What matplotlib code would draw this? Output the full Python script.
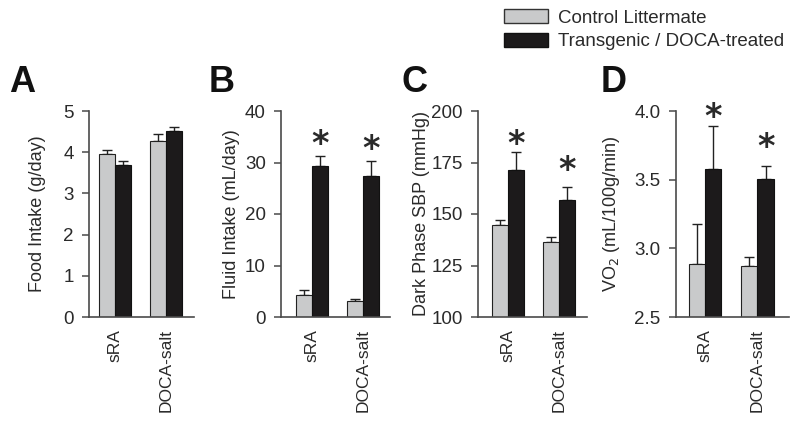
import matplotlib
matplotlib.use("Agg")
import matplotlib.pyplot as plt
from matplotlib.patches import Patch
import numpy as np

plt.rcParams['font.family'] = ['Liberation Sans', 'DejaVu Sans']

categories = ["sRA", "DOCA-salt"]
series_names = ["Control Littermate", "Transgenic / DOCA-treated"]

food_ctrl = [3.95, 4.27]
food_ctrl_err = [0.10, 0.18]
food_tg = [3.69, 4.52]
food_tg_err = [0.10, 0.08]

fluid_ctrl = [4.2, 3.2]
fluid_ctrl_err = [1.0, 0.2]
fluid_tg = [29.3, 27.3]
fluid_tg_err = [1.9, 3.0]
fluid_star = [35.0, 34.0]

sbp_ctrl = [144.5, 136.2]
sbp_ctrl_err = [2.4, 2.4]
sbp_tg = [171.2, 156.6]
sbp_tg_err = [9.0, 6.3]
sbp_star = [187.6, 175.0]

vo2_ctrl = [2.884, 2.872]
vo2_ctrl_err = [0.29, 0.065]
vo2_tg = [3.577, 3.505]
vo2_tg_err = [0.317, 0.092]
vo2_star = [4.01, 3.79]

panel_letters = ["A", "B", "C", "D"]
panel_ylabels = ["Food Intake (g/day)", "Fluid Intake (mL/day)",
                 "Dark Phase SBP (mmHg)", "VO$_2$ (mL/100g/min)"]

panels = [
    dict(ctrl=food_ctrl, ce=food_ctrl_err, tg=food_tg, te=food_tg_err, star=None,
         ylim=(0, 5), yticks=[0, 1, 2, 3, 4, 5], fmt="{:.0f}",
         px=(89, 105), xlim=(-0.51, 1.55), labx=46, letx=9),
    dict(ctrl=fluid_ctrl, ce=fluid_ctrl_err, tg=fluid_tg, te=fluid_tg_err, star=fluid_star,
         ylim=(0, 40), yticks=[0, 10, 20, 30, 40], fmt="{:.0f}",
         px=(281, 109), xlim=(-0.61, 1.53), labx=240, letx=209),
    dict(ctrl=sbp_ctrl, ce=sbp_ctrl_err, tg=sbp_tg, te=sbp_tg_err, star=sbp_star,
         ylim=(100, 200), yticks=[100, 125, 150, 175, 200], fmt="{:.0f}",
         px=(478, 109), xlim=(-0.59, 1.55), labx=430, letx=402),
    dict(ctrl=vo2_ctrl, ce=vo2_ctrl_err, tg=vo2_tg, te=vo2_tg_err, star=vo2_star,
         ylim=(2.5, 4.0), yticks=[2.5, 3.0, 3.5, 4.0], fmt="{:.1f}",
         px=(676, 113), xlim=(-0.55, 1.6), labx=622, letx=601),
]

W, H = 800, 425
fig = plt.figure(figsize=(8, 4.25), dpi=100)

gray = "#c9cacb"
black = "#1c1a1b"
axis_col = "#4a4a4a"
text_col = "#2a2a2a"
bw = 0.31
x = np.arange(len(categories))
star_fs = 24

for p, letter, ylab in zip(panels, panel_letters, panel_ylabels):
    left, width = p["px"]
    ax = fig.add_axes([left / W, (H - 317) / H, width / W, 206 / H])
    ax.bar(x - bw / 2, p["ctrl"], bw, color=gray, edgecolor="#222222", linewidth=0.8, zorder=2)
    ax.bar(x + bw / 2, p["tg"], bw, color=black, edgecolor="#111111", linewidth=0.8, zorder=2)
    ax.errorbar(x - bw / 2, p["ctrl"], yerr=[np.zeros(2), p["ce"]], fmt="none",
                ecolor="#222222", elinewidth=1.0, capsize=3.6, capthick=1.0, zorder=1)
    ax.errorbar(x + bw / 2, p["tg"], yerr=[np.zeros(2), p["te"]], fmt="none",
                ecolor="#222222", elinewidth=1.0, capsize=3.6, capthick=1.0, zorder=1)
    if p["star"] is not None:
        for xi, sy in zip(x + bw / 2, p["star"]):
            ax.annotate("*", xy=(xi, sy), xytext=(0, -0.52 * star_fs), textcoords="offset points",
                        ha="center", va="baseline", fontsize=star_fs, color=text_col,
                        family="DejaVu Sans", fontweight="bold", annotation_clip=False)
    ax.set_ylim(*p["ylim"])
    ax.set_xlim(*p["xlim"])
    ax.set_yticks(p["yticks"])
    ax.set_yticklabels([p["fmt"].format(v) for v in p["yticks"]], fontsize=13.5, color=text_col)
    ax.set_xticks(x)
    ax.set_xticklabels(categories, rotation=90, fontsize=12.5, color=text_col)
    ax.tick_params(axis="x", length=0, pad=9)
    ax.tick_params(axis="y", length=5, width=1.1, color=axis_col, pad=6, direction="out")
    for s in ["top", "right"]:
        ax.spines[s].set_visible(False)
    for s in ["left", "bottom"]:
        ax.spines[s].set_color(axis_col)
        ax.spines[s].set_linewidth(1.2)
    ax.set_ylabel(ylab, fontsize=13, color=text_col)
    ax.yaxis.set_label_coords((p["labx"] - left) / width, 0.5)
    fig.text(p["letx"] / W, 1 - 92 / H, letter, fontsize=26, fontweight="bold",
             color="#111111", ha="left", va="baseline")

handles = [Patch(facecolor=gray, edgecolor="#333333", linewidth=1.0),
           Patch(facecolor=black, edgecolor="#111111", linewidth=1.0)]
leg = fig.legend(handles, series_names, loc="upper left", bbox_to_anchor=(504 / W, 1 - 9 / H),
                 frameon=False, fontsize=13.5, handlelength=2.35, handleheight=0.8,
                 handletextpad=0.55, labelspacing=0.32, borderpad=0, borderaxespad=0)
for t in leg.get_texts():
    t.set_color(text_col)

fig.savefig("out.png", dpi=100)
